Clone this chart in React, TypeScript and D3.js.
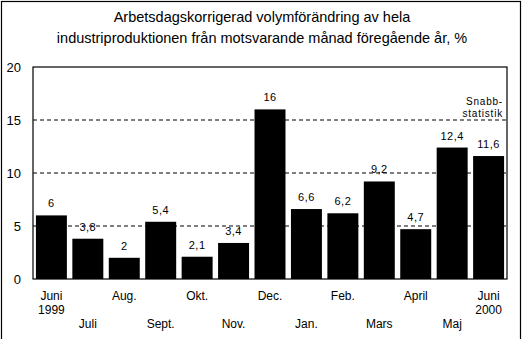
import React from "react";
import * as d3 from "d3";

const months = ["Juni", "Juli", "Aug.", "Sept.", "Okt.", "Nov.", "Dec.", "Jan.", "Feb.", "Mars", "April", "Maj", "Juni"];
const years = ["1999", "", "", "", "", "", "", "", "", "", "", "", "2000"];
const values = [6, 3.8, 2, 5.4, 2.1, 3.4, 16, 6.6, 6.2, 9.2, 4.7, 12.4, 11.6];
const yTicks = [0, 5, 10, 15, 20];
const gridLines = [5, 10, 15];
const titleLines = [
  "Arbetsdagskorrigerad volymförändring av hela",
  "industriproduktionen från motsvarande månad föregående år, %",
];
const noteLines = ["Snabb-", "statistik"];

const W = 524;
const H = 339;
const left = 33;
const right = 507;
const top = 67;
const bottom = 279;
const font = "'Liberation Sans', Arial, sans-serif";

export default function App() {
  const idx = values.map((_, i) => i);
  const x = d3.scaleBand<number>().domain(idx).range([left, right]).paddingInner(0.15).paddingOuter(0.08);
  const y = d3.scaleLinear().domain([0, 20]).range([bottom, top]);
  const fmt = (v: number) => String(v).replace(".", ",");

  return (
    <svg width={W} height={H} style={{ position: "absolute", left: 0, top: 0, background: "#fff" }}>
      <rect x={1.5} y={1.5} width={519} height={H + 10} fill="#fff" stroke="#000" strokeWidth={1.2} />
      {titleLines.map((t, i) => (
        <text key={i} x={262} y={22 + i * 21} textAnchor="middle" fontFamily={font} fontSize={14.5} fill="#000">
          {t}
        </text>
      ))}
      {gridLines.map((g) => (
        <line key={g} x1={left} x2={right} y1={y(g)} y2={y(g)} stroke="#000" strokeWidth={1} strokeDasharray="4,3" />
      ))}
      {noteLines.map((t, i) => (
        <text key={i} x={503} y={y(15) - 15 + i * 12} textAnchor="end" fontFamily={font} fontSize={10} letterSpacing={0.8} fill="#000">
          {t}
        </text>
      ))}
      {values.map((v, i) => (
        <g key={i}>
          <rect x={x(i)} y={y(v)} width={x.bandwidth()} height={y(0) - y(v)} fill="#000" />
          <text x={(x(i) as number) + x.bandwidth() / 2} y={y(v) - 8} textAnchor="middle" fontFamily={font} fontSize={11} letterSpacing={0.5} fill="#000">
            {fmt(v)}
          </text>
        </g>
      ))}
      <rect x={left} y={top} width={right - left} height={bottom - top} fill="none" stroke="#000" strokeWidth={1.2} />
      {yTicks.map((t) => (
        <text key={t} x={21} y={y(t) + 5} textAnchor="end" fontFamily={font} fontSize={13} fill="#000">
          {t}
        </text>
      ))}
      {months.map((m, i) => {
        const cx = (x(i) as number) + x.bandwidth() / 2;
        const row1 = i % 2 === 0;
        return (
          <g key={i}>
            <text x={cx} y={row1 ? 300 : 328} textAnchor="middle" fontFamily={font} fontSize={12} fill="#000">
              {m}
            </text>
            {years[i] && (
              <text x={cx} y={314} textAnchor="middle" fontFamily={font} fontSize={12} fill="#000">
                {years[i]}
              </text>
            )}
          </g>
        );
      })}
    </svg>
  );
}
